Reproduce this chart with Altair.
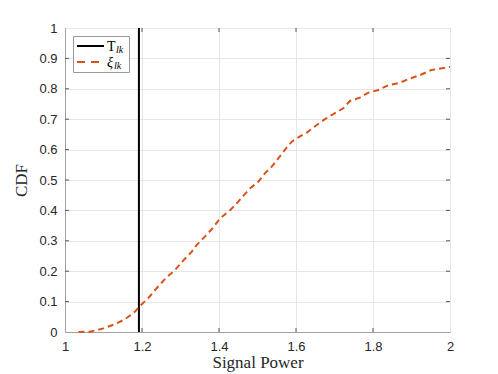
import altair as alt
import pandas as pd

# ---- data ----
xi_x = [1.035, 1.065, 1.100, 1.130, 1.156, 1.182, 1.195, 1.216, 1.238, 1.264,
        1.286, 1.307, 1.329, 1.342, 1.362, 1.381, 1.403, 1.429, 1.446, 1.463,
        1.481, 1.502, 1.519, 1.537, 1.554, 1.571, 1.589, 1.602, 1.628, 1.654,
        1.675, 1.697, 1.723, 1.740, 1.766, 1.788, 1.814, 1.840, 1.870, 1.896,
        1.922, 1.952, 1.987, 2.000]
xi_y = [0.000, 0.001, 0.012, 0.026, 0.042, 0.067, 0.086, 0.111, 0.144, 0.180,
        0.204, 0.235, 0.264, 0.286, 0.312, 0.338, 0.374, 0.401, 0.423, 0.448,
        0.473, 0.494, 0.522, 0.544, 0.571, 0.599, 0.626, 0.637, 0.656, 0.681,
        0.700, 0.717, 0.736, 0.760, 0.771, 0.787, 0.796, 0.812, 0.820, 0.834,
        0.845, 0.862, 0.869, 0.872]
threshold_x = 1.192
threshold_y = [0.0, 1.0]

series_names = ["T", "xi"]
series_colors = ["#000000", "#D95319"]
legend_main = ["T", "\u03be"]
legend_sub = ["lk", "lk"]

x_ticks = [1, 1.2, 1.4, 1.6, 1.8, 2]
y_ticks = [0, 0.1, 0.2, 0.3, 0.4, 0.5, 0.6, 0.7, 0.8, 0.9, 1]

rows = []
for i, y in enumerate(threshold_y):
    rows.append({"x": threshold_x, "y": y, "s": series_names[0], "o": i})
for i, (x, y) in enumerate(zip(xi_x, xi_y)):
    rows.append({"x": x, "y": y, "s": series_names[1], "o": i})
df = pd.DataFrame(rows)

W, H = 385, 304
xscale = alt.Scale(domain=[1, 2], nice=False, zero=False)
yscale = alt.Scale(domain=[0, 1], nice=False)
xaxis = alt.Axis(values=x_ticks, format="~g", grid=True, title="Signal Power")
yaxis = alt.Axis(values=y_ticks, format="~g", grid=True, title="CDF")

lines = alt.Chart(df).mark_line(strokeWidth=2).encode(
    x=alt.X("x:Q", scale=xscale, axis=xaxis),
    y=alt.Y("y:Q", scale=yscale, axis=yaxis),
    color=alt.Color("s:N", scale=alt.Scale(domain=series_names, range=series_colors),
                    legend=None),
    strokeDash=alt.StrokeDash("s:N", scale=alt.Scale(domain=series_names,
                                                     range=[[1, 0], [6, 4]]),
                              legend=None),
    order="o:Q",
)

xt = pd.DataFrame({"t": x_ticks[1:-1]})
yt = pd.DataFrame({"t": y_ticks[1:-1]})
tick_col = "#555555"
xb = alt.Chart(xt).mark_rule(color=tick_col, strokeWidth=1).encode(
    x=alt.X("t:Q", scale=xscale, axis=xaxis), y=alt.value(H), y2=alt.value(H - 4))
xtop = alt.Chart(xt).mark_rule(color=tick_col, strokeWidth=1).encode(
    x=alt.X("t:Q", scale=xscale, axis=xaxis), y=alt.value(0), y2=alt.value(4))
yl = alt.Chart(yt).mark_rule(color=tick_col, strokeWidth=1).encode(
    y=alt.Y("t:Q", scale=yscale, axis=yaxis), x=alt.value(0), x2=alt.value(4))
yr = alt.Chart(yt).mark_rule(color=tick_col, strokeWidth=1).encode(
    y=alt.Y("t:Q", scale=yscale, axis=yaxis), x=alt.value(W), x2=alt.value(W - 4))

# ---- hand-built legend (box, line samples, labels with subscripts) ----
one = pd.DataFrame({"a": [0]})
leg_box = alt.Chart(one).mark_rect(fill="white", stroke="#999999", strokeWidth=1).encode(
    x=alt.value(8.5), x2=alt.value(64.5), y=alt.value(8.5), y2=alt.value(44.5))
leg_l1 = alt.Chart(one).mark_rule(color=series_colors[0], strokeWidth=2).encode(
    x=alt.value(12), x2=alt.value(39), y=alt.value(18))
leg_l2 = alt.Chart(one).mark_rule(color=series_colors[1], strokeWidth=2,
                                  strokeDash=[8, 6]).encode(
    x=alt.value(12), x2=alt.value(39), y=alt.value(34))
leg_t1 = alt.Chart(one).mark_text(font="Liberation Serif", fontSize=14, align="left",
                                  baseline="alphabetic", color="black").encode(
    x=alt.value(42), y=alt.value(22.5), text=alt.value(legend_main[0]))
leg_s1 = alt.Chart(one).mark_text(font="Liberation Serif", fontSize=10, fontStyle="italic",
                                  align="left", baseline="alphabetic", color="black").encode(
    x=alt.value(51), y=alt.value(25), text=alt.value(legend_sub[0]))
leg_t2 = alt.Chart(one).mark_text(font="Liberation Serif", fontSize=14, fontStyle="italic",
                                  align="left", baseline="alphabetic", color="black").encode(
    x=alt.value(42), y=alt.value(38.5), text=alt.value(legend_main[1]))
leg_s2 = alt.Chart(one).mark_text(font="Liberation Serif", fontSize=10, fontStyle="italic",
                                  align="left", baseline="alphabetic", color="black").encode(
    x=alt.value(49), y=alt.value(41), text=alt.value(legend_sub[1]))

chart = alt.layer(lines, xb, xtop, yl, yr,
                  leg_box, leg_l1, leg_l2, leg_t1, leg_s1, leg_t2, leg_s2).properties(
    width=W, height=H,
    autosize=alt.AutoSizeParams(type="none"),
    padding={"left": 57, "top": 20, "right": 40, "bottom": 46},
).configure_view(
    stroke="#a0a0a0", strokeWidth=1
).configure_axis(
    domainColor="#a0a0a0", domainWidth=1, ticks=False,
    gridColor="#e6e6e6", gridWidth=1,
    labelFont="Liberation Sans", labelFontSize=13, labelColor="#262626",
    labelOverlap=False, labelFlush=False,
    titleFont="Liberation Serif", titleFontSize=17, titleFontWeight="normal",
    titleColor="#262626",
).configure_axisX(
    labelPadding=8, titlePadding=1
).configure_axisY(
    labelPadding=8, titlePadding=8
)

chart.save("out.html", embed_options={"renderer": "svg", "actions": False})
